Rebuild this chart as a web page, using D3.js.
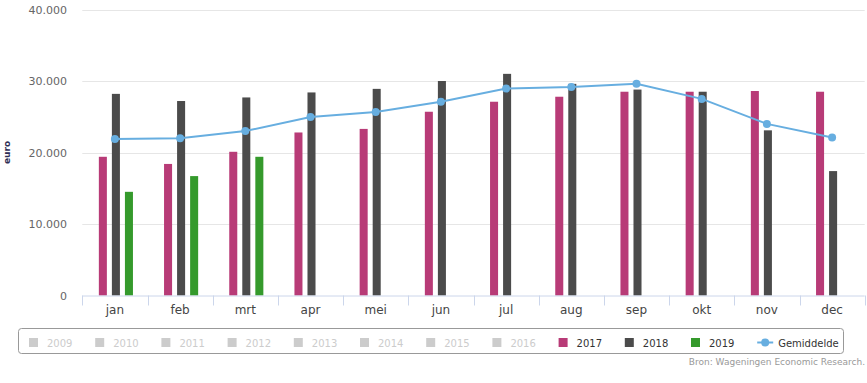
<!DOCTYPE html>
<html>
<head>
<meta charset="utf-8">
<script src="https://cdn.jsdelivr.net/npm/d3@7"></script>
<style>
  html, body { margin: 0; padding: 0; background: #fff; }
  svg { display: block; font-family: "DejaVu Sans", Verdana, sans-serif; }
</style>
</head>
<body>
<svg id="chart" width="867" height="383"></svg>
<script>
const months = ["jan","feb","mrt","apr","mei","jun","jul","aug","sep","okt","nov","dec"];
const values2017 = [19400, 18400, 20100, 22800, 23300, 25700, 27100, 27800, 28500, 28500, 28600, 28500];
const values2018 = [28200, 27200, 27700, 28400, 28900, 30000, 31000, 29600, 28800, 28500, 23100, 17400];
const values2019 = [14500, 16700, 19400, null, null, null, null, null, null, null, null, null];
const average    = [21900, 22000, 23000, 24950, 25650, 27100, 28950, 29150, 29600, 27500, 24000, 22100];
const yTicks = [0, 10000, 20000, 30000, 40000];
const legendYears = ["2009","2010","2011","2012","2013","2014","2015","2016","2017","2018","2019"];
const activeYears = ["2017","2018","2019"];
const colors = {"2017": "#b83b77", "2018": "#4b4b4b", "2019": "#359a2c", avg: "#67aee0"};

(function () {
const svg = d3.select("#chart");
const pLeft = 82.3, pRight = 864.7, pTop = 9.5, pBottom = 295.5;

const x = d3.scaleBand().domain(months).range([pLeft, pRight]).padding(0);
const y = d3.scaleLinear().domain([0, 40000]).range([pBottom, pTop]);
const bw = x.bandwidth();
const xs = d3.scaleBand().domain(activeYears)
  .range([bw * 0.2 + 1, bw * 0.8 + 1]).paddingInner(5 / 13).paddingOuter(2.5 / 13);

const fmt = v => d3.format(",")(v).replace(/,/g, ".");

// gridlines
svg.append("g").selectAll("line").data(yTicks.filter(d => d > 0)).join("line")
  .attr("x1", pLeft).attr("x2", pRight)
  .attr("y1", d => Math.round(y(d)) + 0.5).attr("y2", d => Math.round(y(d)) + 0.5)
  .attr("stroke", "#e6e6e6").attr("stroke-width", 1);

// y labels
svg.append("g").selectAll("text").data(yTicks).join("text")
  .attr("x", 67).attr("y", d => y(d) + 4)
  .attr("text-anchor", "end").attr("font-size", 11).attr("fill", "#666")
  .text(d => fmt(d));

// y title
svg.append("text")
  .attr("transform", `translate(7,${(pTop + pBottom) / 2}) rotate(-90)`)
  .attr("text-anchor", "middle").attr("dominant-baseline", "central")
  .attr("font-size", 9).attr("font-weight", "bold").attr("fill", "#2f2d55")
  .text("euro");

// bars
const series = [
  {key: "2017", vals: values2017},
  {key: "2018", vals: values2018},
  {key: "2019", vals: values2019}
];
series.forEach(s => {
  svg.append("g").selectAll("rect")
    .data(months.map((m, i) => ({m, v: s.vals[i]})).filter(d => d.v != null))
    .join("rect")
    .attr("x", d => x(d.m) + xs(s.key))
    .attr("width", xs.bandwidth())
    .attr("y", d => y(d.v))
    .attr("height", d => y(0) - y(d.v))
    .attr("fill", colors[s.key]);
});

// x axis
const gx = svg.append("g").attr("transform", `translate(0,${pBottom})`);
gx.append("line").attr("x1", pLeft).attr("x2", pRight).attr("y1", 0.5).attr("y2", 0.5)
  .attr("stroke", "#ccd6eb");
const boundaries = months.map(m => x(m)).concat([pRight]);
gx.selectAll("line.tk").data(boundaries).join("line").attr("class", "tk")
  .attr("x1", d => Math.round(d) + 0.5).attr("x2", d => Math.round(d) + 0.5)
  .attr("y1", 0).attr("y2", 10).attr("stroke", "#ccd6eb");
gx.selectAll("text.lb").data(months).join("text").attr("class", "lb")
  .attr("x", d => x(d) + bw / 2).attr("y", 18)
  .attr("text-anchor", "middle").attr("font-size", 12).attr("fill", "#444")
  .text(d => d);

// average line
const line = d3.line().x((d, i) => x(months[i]) + bw / 2).y(d => y(d));
svg.append("path").datum(average).attr("d", line)
  .attr("fill", "none").attr("stroke", colors.avg).attr("stroke-width", 2);
svg.append("g").selectAll("circle").data(average).join("circle")
  .attr("cx", (d, i) => x(months[i]) + bw / 2).attr("cy", d => y(d))
  .attr("r", 4).attr("fill", colors.avg);

// legend
const lg = svg.append("g");
lg.append("rect").attr("x", 18.5).attr("y", 328.5).attr("width", 825).attr("height", 25)
  .attr("rx", 3).attr("fill", "#fff").attr("stroke", "#999");
const step = 66.2;
legendYears.forEach((yr, i) => {
  const active = activeYears.includes(yr);
  const x0 = 29 + i * step;
  lg.append("rect").attr("x", x0).attr("y", 338).attr("width", 9).attr("height", 9)
    .attr("fill", active ? colors[yr] : "#ccc");
  lg.append("text").attr("x", x0 + 18).attr("y", 346.5)
    .attr("font-size", 10).attr("fill", active ? "#333" : "#ccc").text(yr);
});
{
  const x0 = 29 + 11 * step;
  lg.append("line").attr("x1", x0).attr("x2", x0 + 16).attr("y1", 342.5).attr("y2", 342.5)
    .attr("stroke", colors.avg).attr("stroke-width", 2);
  lg.append("circle").attr("cx", x0 + 8).attr("cy", 342.5).attr("r", 4).attr("fill", colors.avg);
  lg.append("text").attr("x", x0 + 21).attr("y", 346.5)
    .attr("font-size", 10).attr("fill", "#333").text("Gemiddelde");
}

// credits
svg.append("text").attr("x", 865).attr("y", 365).attr("text-anchor", "end")
  .attr("font-size", 9).attr("fill", "#999").text("Bron: Wageningen Economic Research.");
})();
</script>
</body>
</html>
